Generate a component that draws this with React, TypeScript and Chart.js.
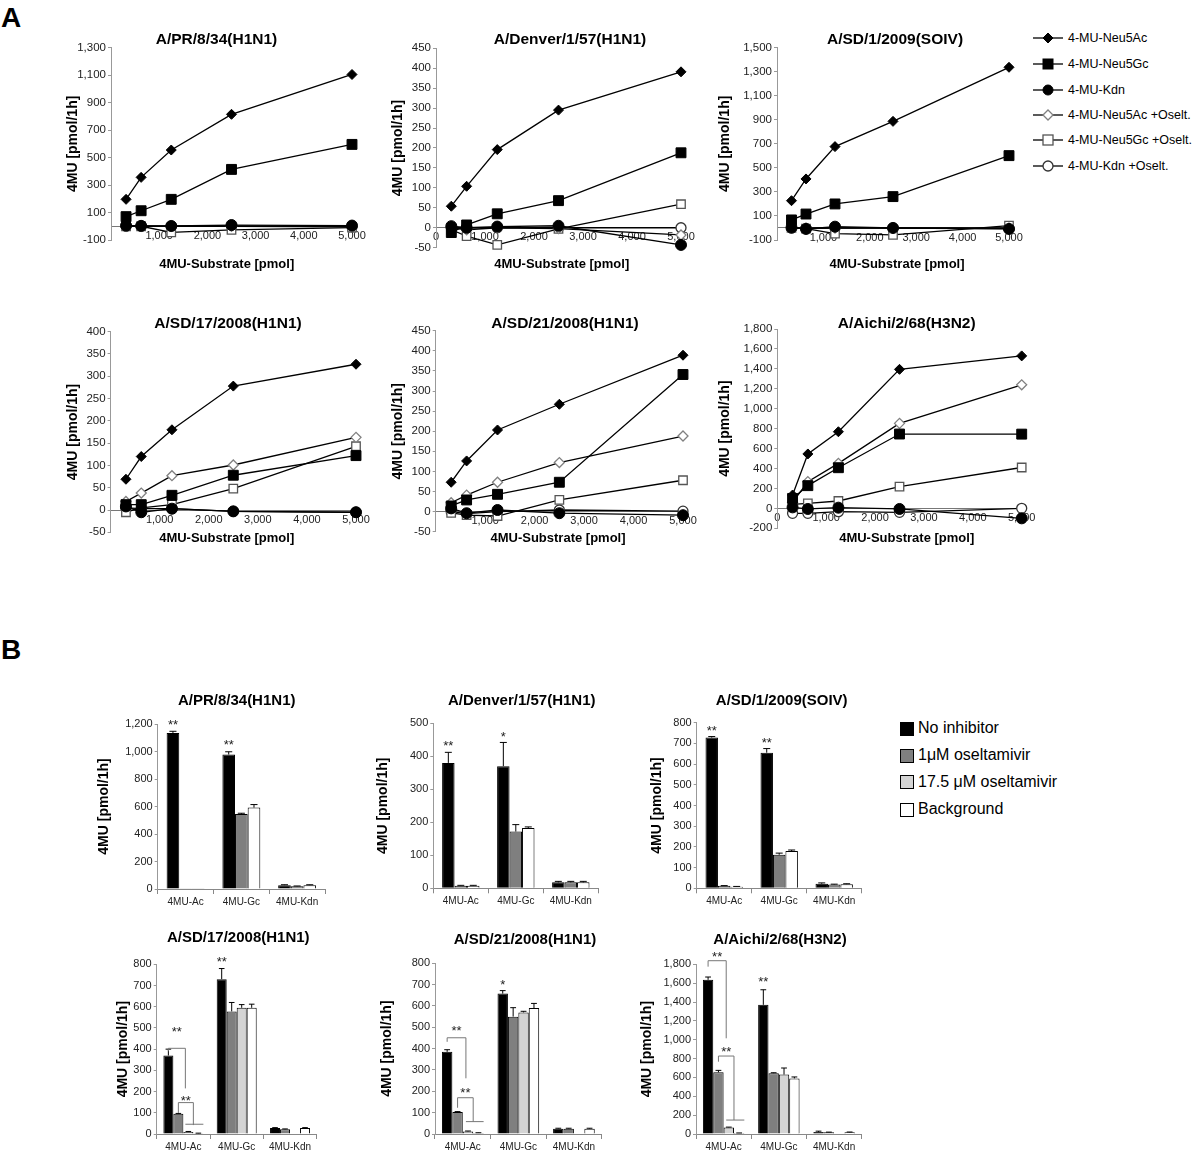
import React, { useEffect, useRef } from "react";
import { Chart, registerables } from "chart.js";

Chart.register(...registerables);

const FONT = "'Liberation Sans', Arial, Helvetica, sans-serif";

// ================= DATA: panel A (line charts) =================
const substratePmol = [312.5, 625, 1250, 2500, 5000];
const lineSeriesNames = [
  "4-MU-Neu5Ac",
  "4-MU-Neu5Gc",
  "4-MU-Kdn",
  "4-MU-Neu5Ac +Oselt.",
  "4-MU-Neu5Gc +Oselt.",
  "4-MU-Kdn +Oselt.",
];
const strainTitles = [
  "A/PR/8/34(H1N1)",
  "A/Denver/1/57(H1N1)",
  "A/SD/1/2009(SOIV)",
  "A/SD/17/2008(H1N1)",
  "A/SD/21/2008(H1N1)",
  "A/Aichi/2/68(H3N2)",
];
const xAxisTitle = "4MU-Substrate [pmol]";
const yAxisTitle = "4MU [pmol/1h]";

// A/PR/8/34(H1N1)
const pr8Neu5Ac = [196, 356, 555, 815, 1105];
const pr8Neu5Gc = [70, 113, 196, 414, 596];
const pr8Kdn = [5, 3, 2, 9, 5];
const pr8Neu5AcOselt = [0, 0, 0, 0, 0];
const pr8Neu5GcOselt = [0, 0, -44, -27, -10];
const pr8KdnOselt = [0, 0, 0, 0, -5];
// A/Denver/1/57(H1N1)
const denNeu5Ac = [54, 104, 196, 295, 391];
const denNeu5Gc = [-12, 7, 35, 68, 188];
const denKdn = [4, 0, 3, 5, -43];
const denNeu5AcOselt = [0, -5, 0, -2, -18];
const denNeu5GcOselt = [-5, -21, -43, -3, 59];
const denKdnOselt = [0, 0, 0, 0, 0];
// A/SD/1/2009(SOIV)
const soivNeu5Ac = [227, 408, 677, 887, 1337];
const soivNeu5Gc = [67, 116, 200, 261, 602];
const soivKdn = [3, -8, 11, 0, -8];
const soivNeu5AcOselt = [0, 0, 0, 0, 0];
const soivNeu5GcOselt = [0, -5, -47, -58, 19];
const soivKdnOselt = [0, -5, 0, 0, -5];
// A/SD/17/2008(H1N1)
const sd17Neu5Ac = [69, 120, 180, 278, 327];
const sd17Neu5Gc = [12, 12, 33, 78, 122];
const sd17Kdn = [8, -5, 3, -3, -5];
const sd17Neu5AcOselt = [19, 38, 77, 101, 163];
const sd17Neu5GcOselt = [-5, 5, 12, 48, 143];
const sd17KdnOselt = [5, 3, 3, -3, -5];
// A/SD/21/2008(H1N1)
const sd21Neu5Ac = [73, 126, 203, 267, 389];
const sd21Neu5Gc = [14, 29, 43, 73, 341];
const sd21Kdn = [8, -4, 4, -4, -9];
const sd21Neu5AcOselt = [22, 41, 73, 122, 188];
const sd21Neu5GcOselt = [-3, -9, -11, 29, 78];
const sd21KdnOselt = [0, -5, 0, 4, 1];
// A/Aichi/2/68(H3N2)
const aichiNeu5Ac = [134, 546, 769, 1395, 1530];
const aichiNeu5Gc = [100, 228, 408, 746, 745];
const aichiKdn = [10, -6, 7, -6, -100];
const aichiNeu5AcOselt = [60, 268, 452, 853, 1240];
const aichiNeu5GcOselt = [40, 51, 74, 219, 410];
const aichiKdnOselt = [-50, -50, -33, -40, 0];

const lineYMin = [-100, -50, -100, -50, -50, -200];
const lineYMax = [1300, 450, 1500, 400, 450, 1800];
const lineYStep = [200, 50, 200, 50, 50, 200];
const lineShowZeroX = [false, true, false, false, false, true];

const lineSeries = [
  [pr8Neu5Ac, pr8Neu5Gc, pr8Kdn, pr8Neu5AcOselt, pr8Neu5GcOselt, pr8KdnOselt],
  [denNeu5Ac, denNeu5Gc, denKdn, denNeu5AcOselt, denNeu5GcOselt, denKdnOselt],
  [soivNeu5Ac, soivNeu5Gc, soivKdn, soivNeu5AcOselt, soivNeu5GcOselt, soivKdnOselt],
  [sd17Neu5Ac, sd17Neu5Gc, sd17Kdn, sd17Neu5AcOselt, sd17Neu5GcOselt, sd17KdnOselt],
  [sd21Neu5Ac, sd21Neu5Gc, sd21Kdn, sd21Neu5AcOselt, sd21Neu5GcOselt, sd21KdnOselt],
  [aichiNeu5Ac, aichiNeu5Gc, aichiKdn, aichiNeu5AcOselt, aichiNeu5GcOselt, aichiKdnOselt],
];

// ================= DATA: panel B (bar charts) =================
const barCategories = ["4MU-Ac", "4MU-Gc", "4MU-Kdn"];
const barSeriesNames = ["No inhibitor", "1\u03bcM oseltamivir", "17.5 \u03bcM oseltamivir", "Background"];

const pr8NoInh = [1135, 978, 28];
const pr8NoInhErr = [12, 20, 3];
const pr8Osel1 = [5, 545, 20];
const pr8Osel1Err = [0, 6, 2];
const pr8Osel17 = [null, null, null];
const pr8Osel17Err = [0, 0, 0];
const pr8Bg = [5, 592, 28];
const pr8BgErr = [0, 22, 3];

const denNoInh = [380, 370, 18];
const denNoInhErr = [32, 72, 3];
const denOsel1 = [8, 172, 18];
const denOsel1Err = [1, 21, 3];
const denOsel17 = [null, null, null];
const denOsel17Err = [0, 0, 0];
const denBg = [8, 183, 18];
const denBgErr = [1, 3, 3];

const soivNoInh = [728, 655, 22];
const soivNoInhErr = [5, 20, 4];
const soivOsel1 = [12, 162, 18];
const soivOsel1Err = [1, 8, 2];
const soivOsel17 = [null, null, null];
const soivOsel17Err = [0, 0, 0];
const soivBg = [8, 180, 20];
const soivBgErr = [1, 5, 2];

const sd17NoInh = [370, 730, 28];
const sd17NoInhErr = [30, 50, 2];
const sd17Osel1 = [95, 578, 22];
const sd17Osel1Err = [2, 42, 2];
const sd17Osel17 = [10, 595, 0];
const sd17Osel17Err = [2, 15, 0];
const sd17Bg = [3, 595, 28];
const sd17BgErr = [1, 17, 2];

const sd21NoInh = [385, 658, 25];
const sd21NoInhErr = [10, 14, 2];
const sd21Osel1 = [103, 550, 25];
const sd21Osel1Err = [2, 42, 2];
const sd21Osel17 = [12, 570, 0];
const sd21Osel17Err = [2, 5, 0];
const sd21Bg = [5, 590, 25];
const sd21BgErr = [1, 22, 2];

const aichiNoInh = [1635, 1370, 20];
const aichiNoInhErr = [30, 160, 10];
const aichiOsel1 = [655, 645, 18];
const aichiOsel1Err = [20, 5, 2];
const aichiOsel17 = [70, 630, 0];
const aichiOsel17Err = [3, 70, 0];
const aichiBg = [10, 590, 18];
const aichiBgErr = [1, 15, 3];

const barYMax = [1200, 500, 800, 800, 800, 1800];
const barYStep = [200, 100, 100, 100, 100, 200];

const barValues = [
  [pr8NoInh, pr8Osel1, pr8Osel17, pr8Bg],
  [denNoInh, denOsel1, denOsel17, denBg],
  [soivNoInh, soivOsel1, soivOsel17, soivBg],
  [sd17NoInh, sd17Osel1, sd17Osel17, sd17Bg],
  [sd21NoInh, sd21Osel1, sd21Osel17, sd21Bg],
  [aichiNoInh, aichiOsel1, aichiOsel17, aichiBg],
];
const barErrors = [
  [pr8NoInhErr, pr8Osel1Err, pr8Osel17Err, pr8BgErr],
  [denNoInhErr, denOsel1Err, denOsel17Err, denBgErr],
  [soivNoInhErr, soivOsel1Err, soivOsel17Err, soivBgErr],
  [sd17NoInhErr, sd17Osel1Err, sd17Osel17Err, sd17BgErr],
  [sd21NoInhErr, sd21Osel1Err, sd21Osel17Err, sd21BgErr],
  [aichiNoInhErr, aichiOsel1Err, aichiOsel17Err, aichiBgErr],
];

// significance marks (category, dataset, value where the mark sits)
type Star = { cat: number; ds: number; value: number; text: string };
const barStars: Star[][] = [
  [{ cat: 0, ds: 0, value: 1217, text: "**" }, { cat: 1, ds: 0, value: 1071, text: "**" }],
  [{ cat: 0, ds: 0, value: 442, text: "**" }, { cat: 1, ds: 0, value: 470, text: "*" }],
  [{ cat: 0, ds: 0, value: 776, text: "**" }, { cat: 1, ds: 0, value: 720, text: "**" }],
  [{ cat: 1, ds: 0, value: 828, text: "**" }],
  [{ cat: 1, ds: 0, value: 717, text: "*" }],
  [{ cat: 1, ds: 0, value: 1651, text: "**" }],
];
type Bracket = { cat: number; from: number; to: number; top: number; leftEnd: number; rightEnd: number; label: string; labelAt: number };
const barBrackets: Bracket[][] = [
  [],
  [],
  [],
  [
    { cat: 0, from: 0, to: 1.7, top: 404, leftEnd: 390, rightEnd: 215, label: "**", labelAt: 498 },
    { cat: 0, from: 1, to: 2.5, top: 148, leftEnd: 99, rightEnd: 42, label: "**", labelAt: 171 },
    { cat: 0, from: 1.7, to: 3.5, top: 46, leftEnd: 46, rightEnd: 46, label: "", labelAt: 0 },
  ],
  [
    { cat: 0, from: 0, to: 1.8, top: 451, leftEnd: 432, rightEnd: 261, label: "**", labelAt: 497 },
    { cat: 0, from: 1, to: 2.5, top: 170, leftEnd: 123, rightEnd: 58, label: "**", labelAt: 211 },
    { cat: 0, from: 1.8, to: 3.5, top: 58, leftEnd: 58, rightEnd: 58, label: "", labelAt: 0 },
  ],
  [
    { cat: 0, from: 0, to: 1.75, top: 1838, leftEnd: 1775, rightEnd: 1015, label: "**", labelAt: 1915 },
    { cat: 0, from: 1, to: 2.5, top: 827, leftEnd: 767, rightEnd: 148, label: "**", labelAt: 909 },
    { cat: 0, from: 1.75, to: 3.5, top: 148, leftEnd: 148, rightEnd: 148, label: "", labelAt: 0 },
  ],
];

// ================= LAYOUT / STYLE =================
type LineGeo = { L: number; T: number; R: number; B: number; titleX: number; titleY: number; yTitleX: number; xTitleX: number; xTitleY: number };
const lineGeos: LineGeo[] = [
  { L: 111, T: 47.7, R: 352, B: 240, titleX: 216.5, titleY: 40, yTitleX: 73, xTitleX: 226.7, xTitleY: 264 },
  { L: 436, T: 48.3, R: 681, B: 247.7, titleX: 570, titleY: 40, yTitleX: 398, xTitleX: 561.7, xTitleY: 264 },
  { L: 777, T: 47.7, R: 1009, B: 240, titleX: 895, titleY: 40, yTitleX: 725, xTitleX: 897, xTitleY: 264 },
  { L: 110.6, T: 331.7, R: 356, B: 532.3, titleX: 228, titleY: 324, yTitleX: 73, xTitleX: 226.7, xTitleY: 538 },
  { L: 435.7, T: 330.7, R: 683, B: 531.7, titleX: 565, titleY: 324, yTitleX: 398, xTitleX: 558, xTitleY: 538 },
  { L: 777.3, T: 329, R: 1021.7, B: 528.3, titleX: 906.7, titleY: 324, yTitleX: 725, xTitleX: 906.7, xTitleY: 538 },
];
type BarGeo = { L: number; T: number; R: number; B: number; titleX: number; titleY: number; yTitleX: number };
const barGeos: BarGeo[] = [
  { L: 157.7, T: 724, R: 325, B: 889, titleX: 236.7, titleY: 700.7, yTitleX: 104 },
  { L: 433.3, T: 723.3, R: 598.3, B: 888.3, titleX: 521.7, titleY: 700.7, yTitleX: 383.3 },
  { L: 696.7, T: 722.7, R: 861.7, B: 888.3, titleX: 781.7, titleY: 700.7, yTitleX: 656.7 },
  { L: 156.7, T: 964.3, R: 316.7, B: 1134, titleX: 238.3, titleY: 937.7, yTitleX: 123.3 },
  { L: 435, T: 963.3, R: 601.7, B: 1134, titleX: 525, titleY: 940, yTitleX: 386.7 },
  { L: 696, T: 964.3, R: 861.7, B: 1134, titleX: 780, titleY: 940, yTitleX: 646.7 },
];

const lineMarkers = [
  { shape: "rectRot", r: 5, fill: "#000", stroke: "#000", sw: 1 },
  { shape: "rect", r: 7, fill: "#000", stroke: "#000", sw: 1 },
  { shape: "circle", r: 5.5, fill: "#000", stroke: "#000", sw: 1 },
  { shape: "rectRot", r: 5, fill: "#fff", stroke: "#808080", sw: 1.3 },
  { shape: "rect", r: 6, fill: "#fff", stroke: "#555", sw: 1.3 },
  { shape: "circle", r: 5, fill: "#fff", stroke: "#333", sw: 1.3 },
];
const barFills = ["#000000", "#7f7f7f", "#d4d4d4", "#ffffff"];
const X_AXIS_H = 16;

type Rect = { x: number; y: number; w: number; h: number };
function lineRect(g: LineGeo): Rect {
  const x = Math.round(g.yTitleX - 12);
  const y = Math.round(g.titleY - 16);
  return { x, y, w: Math.round(g.R + 22) - x, h: Math.round(g.xTitleY + 10) - y };
}
function barRect(g: BarGeo): Rect {
  const x = Math.round(g.yTitleX - 12);
  const y = Math.round(g.titleY - 16);
  return { x, y, w: Math.round(g.R + 12) - x, h: Math.min(Math.round(g.B + 18), 1152) - y };
}

function drawText(ctx: CanvasRenderingContext2D, text: string, x: number, y: number, font: string, color = "#000") {
  ctx.save();
  ctx.font = font;
  ctx.fillStyle = color;
  ctx.textAlign = "center";
  ctx.textBaseline = "middle";
  ctx.fillText(text, x, y);
  ctx.restore();
}
function drawStars(ctx: CanvasRenderingContext2D, text: string, x: number, yVisual: number, size: number) {
  ctx.save();
  ctx.font = `${size}px ${FONT}`;
  ctx.fillStyle = "#222";
  ctx.textAlign = "center";
  ctx.textBaseline = "alphabetic";
  ctx.fillText(text, x, yVisual + size * 0.58);
  ctx.restore();
}
const fmt = (v: any) => Number(v).toLocaleString("en-US");

function buildLineConfig(idx: number): any {
  const g = lineGeos[idx];
  const rect = lineRect(g);
  const datasets = lineSeries[idx].map((vals, i) => ({
    label: lineSeriesNames[i],
    data: substratePmol.map((x, k) => ({ x, y: vals[k] })),
    borderColor: "#000",
    borderWidth: 1.3,
    pointStyle: lineMarkers[i].shape,
    pointRadius: lineMarkers[i].r,
    pointBackgroundColor: lineMarkers[i].fill,
    pointBorderColor: lineMarkers[i].stroke,
    pointBorderWidth: lineMarkers[i].sw,
    tension: 0,
    fill: false,
    clip: false,
  }));
  const deco = {
    id: "lineDeco",
    afterDraw(chart: any) {
      const ctx = chart.ctx;
      drawText(ctx, strainTitles[idx], g.titleX - rect.x, g.titleY - rect.y, `bold 15.5px ${FONT}`);
      drawText(ctx, xAxisTitle, g.xTitleX - rect.x, g.xTitleY - rect.y, `bold 13px ${FONT}`);
    },
  };
  return {
    type: "line",
    data: { datasets },
    options: {
      responsive: false,
      animation: false,
      devicePixelRatio: 1,
      events: [],
      layout: {
        padding: { left: 0, top: g.T - rect.y, right: rect.x + rect.w - g.R, bottom: rect.y + rect.h - g.B },
      },
      plugins: { legend: { display: false }, tooltip: { enabled: false }, title: { display: false } },
      scales: {
        x: {
          type: "linear",
          position: { y: 0 },
          min: 0,
          max: 5000,
          ticks: {
            stepSize: 1000,
            autoSkip: false,
            maxRotation: 0,
            padding: 3,
            color: "#222",
            font: { family: FONT, size: 11 },
            callback: (v: any) => (Number(v) === 0 && !lineShowZeroX[idx] ? "" : fmt(v)),
          },
          grid: { display: false, drawTicks: false },
          border: { display: true, color: "#777", width: 1 },
        },
        y: {
          type: "linear",
          position: "left",
          min: lineYMin[idx],
          max: lineYMax[idx],
          ticks: {
            stepSize: lineYStep[idx],
            autoSkip: false,
            padding: 2,
            color: "#222",
            font: { family: FONT, size: 11.5 },
            callback: (v: any) => fmt(v),
          },
          grid: { display: true, drawOnChartArea: false, drawTicks: true, tickLength: 3, color: "#999" },
          border: { display: true, color: "#999", width: 1 },
          title: {
            display: true,
            text: yAxisTitle,
            color: "#000",
            font: { family: FONT, size: 14, weight: "bold" },
            padding: { top: g.yTitleX - rect.x - 8.4, bottom: 0 },
          },
          afterFit: (s: any) => {
            s.width = g.L - rect.x;
          },
        },
      },
    },
    plugins: [deco],
  };
}

function buildBarConfig(idx: number): any {
  const g = barGeos[idx];
  const rect = barRect(g);
  const values = barValues[idx];
  const errs = barErrors[idx];
  const has17 = values[2].some((v) => v !== null);
  const datasets = values.map((d, i) => ({
    label: barSeriesNames[i],
    data: d,
    backgroundColor: barFills[i],
    borderColor: "#000",
    borderWidth: 1,
    barPercentage: 1,
    categoryPercentage: has17 ? 0.75 : 0.68,
    skipNull: true,
  }));
  const barX = (chart: any, cat: number, f: number) => {
    const i0 = Math.min(Math.floor(f), 3);
    const el = chart.getDatasetMeta(i0).data[cat];
    return el.x + (f - i0) * el.width;
  };
  const deco = {
    id: "barDeco",
    afterDatasetsDraw(chart: any) {
      const ctx = chart.ctx as CanvasRenderingContext2D;
      const ys = chart.scales.y;
      ctx.save();
      ctx.strokeStyle = "#000";
      ctx.lineWidth = 1;
      errs.forEach((arr, i) => {
        const meta = chart.getDatasetMeta(i);
        arr.forEach((e, j) => {
          const v = values[i][j];
          if (v === null || v === undefined || !e) return;
          const el: any = meta.data[j];
          const x = el.x;
          const y0 = ys.getPixelForValue(v);
          const y1 = ys.getPixelForValue(v + e);
          const cw = el.width * 0.28;
          ctx.beginPath();
          ctx.moveTo(x, y0);
          ctx.lineTo(x, y1);
          ctx.moveTo(x - cw, y1);
          ctx.lineTo(x + cw, y1);
          ctx.stroke();
        });
      });
      ctx.strokeStyle = "#777";
      barBrackets[idx].forEach((b) => {
        const xl = barX(chart, b.cat, b.from);
        const xr = barX(chart, b.cat, b.to);
        const yt = ys.getPixelForValue(b.top);
        ctx.beginPath();
        ctx.moveTo(xl, ys.getPixelForValue(b.leftEnd));
        ctx.lineTo(xl, yt);
        ctx.lineTo(xr, yt);
        ctx.lineTo(xr, ys.getPixelForValue(b.rightEnd));
        ctx.stroke();
        if (b.label) drawStars(ctx, b.label, (xl + xr) / 2, ys.getPixelForValue(b.labelAt), 13);
      });
      ctx.restore();
      barStars[idx].forEach((s) => {
        const el: any = chart.getDatasetMeta(s.ds).data[s.cat];
        drawStars(ctx, s.text, el.x, ys.getPixelForValue(s.value), 13);
      });
    },
    afterDraw(chart: any) {
      drawText(chart.ctx, strainTitles[idx], g.titleX - rect.x, g.titleY - rect.y, `bold 15px ${FONT}`);
    },
  };
  return {
    type: "bar",
    data: { labels: barCategories, datasets },
    options: {
      responsive: false,
      animation: false,
      devicePixelRatio: 1,
      events: [],
      layout: {
        padding: { left: 0, top: g.T - rect.y, right: rect.x + rect.w - g.R, bottom: rect.y + rect.h - g.B - X_AXIS_H },
      },
      plugins: { legend: { display: false }, tooltip: { enabled: false }, title: { display: false } },
      scales: {
        x: {
          type: "category",
          ticks: { autoSkip: false, maxRotation: 0, padding: 2, color: "#222", font: { family: FONT, size: 10 } },
          grid: { display: true, drawOnChartArea: false, drawTicks: true, tickLength: 5, color: "#888", offset: true },
          border: { display: true, color: "#888", width: 1 },
          afterFit: (s: any) => {
            s.height = X_AXIS_H;
          },
        },
        y: {
          type: "linear",
          position: "left",
          min: 0,
          max: barYMax[idx],
          ticks: {
            stepSize: barYStep[idx],
            autoSkip: false,
            padding: 2,
            color: "#222",
            font: { family: FONT, size: 11 },
            callback: (v: any) => fmt(v),
          },
          grid: { display: true, drawOnChartArea: false, drawTicks: true, tickLength: 3, color: "#999" },
          border: { display: true, color: "#999", width: 1 },
          title: {
            display: true,
            text: yAxisTitle,
            color: "#000",
            font: { family: FONT, size: 14, weight: "bold" },
            padding: { top: g.yTitleX - rect.x - 8.4, bottom: 0 },
          },
          afterFit: (s: any) => {
            s.width = g.L - rect.x;
          },
        },
      },
    },
    plugins: [deco],
  };
}

function ChartCanvas({ rect, build }: { rect: Rect; build: () => any }) {
  const ref = useRef<HTMLCanvasElement | null>(null);
  useEffect(() => {
    if (!ref.current) return;
    const chart = new Chart(ref.current, build());
    return () => chart.destroy();
  }, []);
  return (
    <canvas
      ref={ref}
      width={rect.w}
      height={rect.h}
      style={{ position: "absolute", left: rect.x, top: rect.y, width: rect.w, height: rect.h }}
    />
  );
}

function Marker({ i, cx, cy }: { i: number; cx: number; cy: number }) {
  const m = lineMarkers[i];
  if (m.shape === "rectRot")
    return (
      <polygon
        points={`${cx - 5},${cy} ${cx},${cy - 5} ${cx + 5},${cy} ${cx},${cy + 5}`}
        fill={m.fill}
        stroke={m.stroke}
        strokeWidth={m.sw}
      />
    );
  if (m.shape === "rect")
    return <rect x={cx - 5} y={cy - 5} width={10} height={10} fill={m.fill} stroke={m.stroke} strokeWidth={m.sw} />;
  return <circle cx={cx} cy={cy} r={5} fill={m.fill} stroke={m.stroke} strokeWidth={m.sw} />;
}

const lineLegendRows = [38.3, 64.3, 90, 115, 140, 165.7];
const barLegendRows = [728.3, 755, 781.7, 809];

function LineLegend() {
  return (
    <>
      {lineSeriesNames.map((name, i) => (
        <div key={name} style={{ position: "absolute", left: 1033, top: lineLegendRows[i] - 8, height: 16, whiteSpace: "nowrap" }}>
          <svg width={32} height={16} style={{ position: "absolute", left: 0, top: 0 }}>
            <line x1={0} y1={8} x2={30} y2={8} stroke="#000" strokeWidth={1.3} />
            <Marker i={i} cx={15} cy={8} />
          </svg>
          <span
            style={{
              position: "absolute",
              left: 35,
              top: 0,
              lineHeight: "16px",
              fontFamily: FONT,
              fontSize: 12.5,
              color: "#000",
            }}
          >
            {name}
          </span>
        </div>
      ))}
    </>
  );
}

function BarLegend() {
  return (
    <>
      {barSeriesNames.map((name, i) => (
        <div key={name} style={{ position: "absolute", left: 900, top: barLegendRows[i] - 10, height: 20, whiteSpace: "nowrap" }}>
          <div
            style={{
              position: "absolute",
              left: 0,
              top: 3.5,
              width: 12,
              height: 12,
              background: barFills[i],
              border: "1px solid #000",
            }}
          />
          <span
            style={{ position: "absolute", left: 18, top: 0, lineHeight: "20px", fontFamily: FONT, fontSize: 16, color: "#000" }}
          >
            {name}
          </span>
        </div>
      ))}
    </>
  );
}

export default function App() {
  return (
    <div style={{ position: "absolute", left: 0, top: 0, width: 1200, height: 1152, background: "#fff", overflow: "hidden" }}>
      <div style={{ position: "absolute", left: 1, top: 4, fontFamily: FONT, fontWeight: "bold", fontSize: 28, lineHeight: "28px" }}>A</div>
      <div style={{ position: "absolute", left: 1, top: 636, fontFamily: FONT, fontWeight: "bold", fontSize: 28, lineHeight: "28px" }}>B</div>
      {lineGeos.map((g, i) => (
        <ChartCanvas key={"l" + i} rect={lineRect(g)} build={() => buildLineConfig(i)} />
      ))}
      {barGeos.map((g, i) => (
        <ChartCanvas key={"b" + i} rect={barRect(g)} build={() => buildBarConfig(i)} />
      ))}
      <LineLegend />
      <BarLegend />
    </div>
  );
}
